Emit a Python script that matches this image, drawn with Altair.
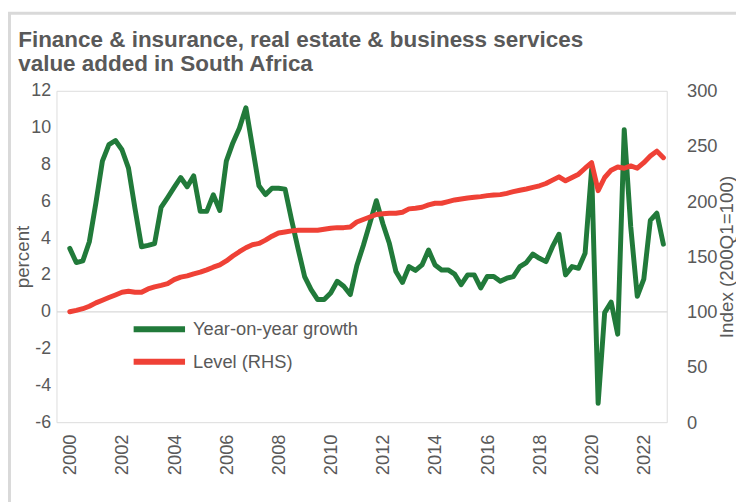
import altair as alt
import pandas as pd

# ---- data ----
years = list(range(2000, 2023))
quarter_nums = [1, 2, 3, 4]
quarters = [f"{y}Q{q}" for y in years for q in quarter_nums]

growth = [
    3.44, 2.67, 2.76, 3.80, 5.90, 8.18, 9.08, 9.30, 8.80, 7.80,
    5.60, 3.53, 3.60, 3.70, 5.67, 6.20, 6.75, 7.29, 6.79, 7.38,
    5.45, 5.45, 6.35, 5.50, 8.18, 9.17, 9.97, 11.08, 8.97, 6.84,
    6.36, 6.71, 6.71, 6.66, 5.00, 3.42, 1.91, 1.20, 0.66, 0.66,
    1.02, 1.65, 1.38, 0.93, 2.50, 3.60, 4.80, 6.03, 4.78, 3.70,
    2.18, 1.59, 2.45, 2.24, 2.54, 3.35, 2.54, 2.27, 2.27, 2.04,
    1.47, 2.00, 2.00, 1.29, 1.91, 1.91, 1.65, 1.82, 1.91, 2.45,
    2.67, 3.13, 2.90, 2.72, 3.53, 4.21, 2.00, 2.45, 2.36, 3.17,
    7.74, -4.98, -0.05, 0.52, -1.22, 9.89, 4.60, 0.84, 1.77, 4.96,
    5.35, 3.67,
]

level = [
    100.0, 101.2, 102.7, 105.0, 108.0, 110.4, 112.8, 115.2, 117.6, 118.5,
    117.6, 117.6, 120.6, 122.4, 123.8, 125.4, 129.0, 131.3, 132.5, 134.3,
    135.8, 137.9, 140.3, 142.4, 146.0, 150.4, 154.3, 157.9, 160.6, 161.8,
    164.8, 168.4, 171.3, 172.2, 173.2, 173.7, 173.7, 173.7, 173.7, 174.6,
    175.5, 176.1, 176.1, 176.7, 181.2, 183.5, 185.7, 188.0, 188.7, 189.2,
    189.2, 190.1, 193.1, 193.7, 194.6, 196.7, 198.2, 198.2, 199.7, 201.2,
    202.1, 203.0, 203.6, 204.2, 205.1, 205.7, 206.0, 207.2, 208.7, 210.0,
    211.1, 212.5, 214.0, 216.1, 219.1, 222.1, 218.5, 221.5, 224.5, 229.9,
    234.9, 209.6, 221.5, 228.1, 231.0, 229.9, 232.0, 229.9, 234.9, 240.9,
    245.4, 239.4,
]

series_names = ["Year-on-year growth", "Level (RHS)"]
x_tick_values = list(range(2000, 2023, 2))
left_tick_values = list(range(-6, 13, 2))
right_tick_values = list(range(0, 301, 50))

title_lines = [
    "Finance & insurance, real estate & business services",
    "value added in South Africa",
]

# ---- style ----
GREEN = "#217a3a"
RED = "#ef4136"
TEXT = "#595959"
GRID = "#d9d9d9"
FONT = "Liberation Sans"
PLAIN_LABEL = "datum.value + ''"

df = pd.DataFrame({
    "quarter": quarters,
    "t": [int(q[:4]) + (int(q[-1]) - 1) / 4 for q in quarters],
    "growth": growth,
    "level": level,
})
df["s_growth"] = series_names[0]
df["s_level"] = series_names[1]

x_enc = alt.X(
    "t:Q",
    scale=alt.Scale(domain=[1999.49, 2022.88], nice=False, zero=False),
    axis=alt.Axis(
        values=x_tick_values, labelExpr=PLAIN_LABEL, labelAngle=270,
        labelAlign="right", labelBaseline="middle", ticks=False, domain=False,
        grid=False, labelPadding=12, labelFontSize=18.5, labelColor=TEXT,
        labelFont=FONT, title=None,
    ),
)

base = alt.Chart(df)

frame = alt.Chart(pd.DataFrame({"f": [0]})).mark_rect(
    fillOpacity=0, stroke=GRID, strokeWidth=3
).encode(
    x=alt.value(-47.5), x2=alt.value(900), y=alt.value(-78.5), y2=alt.value(900)
)

legend_common = dict(
    orient="none", legendX=75, title=None, symbolType="stroke",
    symbolSize=2700, symbolStrokeWidth=6, labelFontSize=18.5, labelColor=TEXT,
    labelFont=FONT, labelOffset=5, labelLimit=0, padding=0,
)

green = base.mark_line(strokeWidth=5, strokeCap="round", strokeJoin="round").encode(
    x=x_enc,
    y=alt.Y(
        "growth:Q",
        scale=alt.Scale(domain=[-6, 12], nice=False, zero=False),
        axis=alt.Axis(
            orient="left", values=left_tick_values, labelExpr=PLAIN_LABEL,
            ticks=False, domain=False, grid=True,
            gridColor={"condition": {"test": "datum.value === 0", "value": GRID},
                       "value": "transparent"},
            gridWidth=1.5,
            labelPadding=6, labelFontSize=18, labelColor=TEXT, labelFont=FONT,
            title="percent", titleFontSize=19, titleFontWeight="normal",
            titleColor=TEXT, titleFont=FONT, titleAngle=270, titleX=-34,
            titleY=167.5, titleAlign="center", titleBaseline="middle",
        ),
    ),
    color=alt.Color(
        "s_growth:N",
        scale=alt.Scale(domain=[series_names[0]], range=[GREEN]),
        legend=alt.Legend(legendY=212, **legend_common),
    ),
)

red = base.mark_line(strokeWidth=5, strokeCap="round", strokeJoin="round").encode(
    x=x_enc,
    y=alt.Y(
        "level:Q",
        scale=alt.Scale(domain=[0, 300], nice=False),
        axis=alt.Axis(
            orient="right", values=right_tick_values, labelExpr=PLAIN_LABEL,
            ticks=False, domain=False, grid=False, labelPadding=20,
            labelFontSize=18.5, labelColor=TEXT, labelFont=FONT,
            title="Index (200Q1=100)", titleFontSize=19, titleFontWeight="normal",
            titleColor=TEXT, titleFont=FONT, titleAngle=270, titleX=66.5,
            titleY=167.5, titleAlign="center", titleBaseline="alphabetic",
        ),
    ),
    color=alt.Color(
        "s_level:N",
        scale=alt.Scale(domain=[series_names[1]], range=[RED]),
        legend=alt.Legend(legendY=245, **legend_common),
    ),
)

chart = alt.layer(frame, green, red).resolve_scale(
    y="independent", color="independent"
).properties(
    width=617,
    height=335,
    autosize=alt.AutoSizeParams(type="none"),
    padding={"left": 49, "top": 81, "right": 70, "bottom": 78},
    title=alt.Title(
        text=title_lines, anchor="start", frame="group", fontSize=22.7,
        font=FONT, fontWeight="bold", color=TEXT, lineHeight=25, dx=-38.7,
        dy=75, offset=10,
    ),
).configure_view(stroke=None).configure(background="white")

chart.save("out.html", embed_options={"renderer": "svg", "actions": False})
